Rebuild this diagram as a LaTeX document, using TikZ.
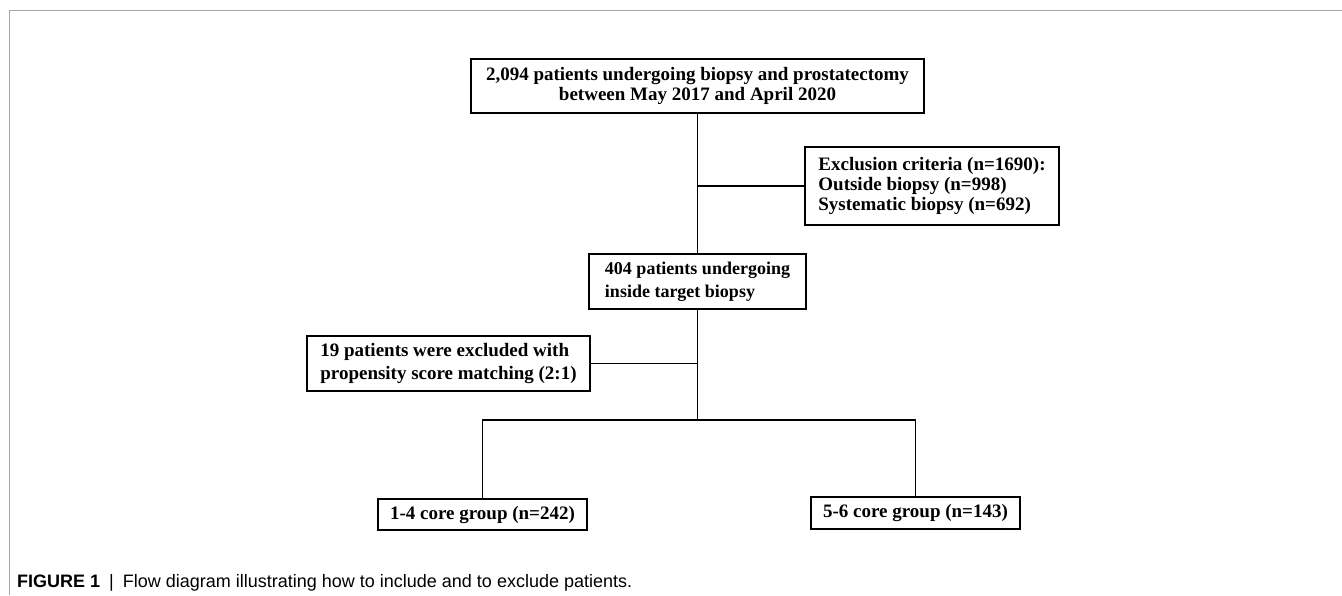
\documentclass[tikz,border=0pt]{standalone}
\usepackage{fontspec}
\usepackage{xcolor}
\usepackage{tikz}
\newfontfamily\tnr{Liberation Serif}
\newfontfamily\capfont{Liberation Sans}
\definecolor{framegray}{HTML}{A8A8A8}

\begin{document}
\begin{tikzpicture}[x=1pt,y=-1pt,
  every node/.style={font=\tnr\bfseries\fontsize{19}{20}\selectfont},
  flowbox/.style={draw,line width=1.8pt,inner sep=0pt,align=left},
  link/.style={line width=1.8pt}]
 \useasboundingbox (0,0) rectangle (1342,595);
 % page frame
 \draw[framegray,line width=1pt] (1342,10.5)--(9.5,10.5)--(9.5,595);
 % boxes
 \node[flowbox,align=center,minimum width=453pt,minimum height=54pt] (all) at (697.5,86)
  {2,094 patients undergoing biopsy and prostatectomy\\between May 2017 and April 2020};
 \node[flowbox,minimum width=254pt,minimum height=78pt] (excl) at (932,186)
  {Exclusion criteria (n=1690):\\Outside biopsy (n=998)\\Systematic biopsy (n=692)};
 \node[flowbox,font=\tnr\bfseries\fontsize{18}{23}\selectfont,minimum width=217pt,minimum height=55pt] (target) at (697.5,281.5)
  {404 patients undergoing\\inside target biopsy};
 \node[flowbox,font=\tnr\bfseries\fontsize{19}{23}\selectfont,minimum width=283pt,minimum height=55pt] (psm) at (448.5,363.5)
  {19 patients were excluded with\\propensity score matching (2:1)};
 \node[flowbox,minimum width=209pt,minimum height=31pt] (low) at (482.5,514.5)
  {1-4 core group (n=242)};
 \node[flowbox,minimum width=209pt,minimum height=32pt] (high) at (915.5,513)
  {5-6 core group (n=143)};
 \coordinate (split) at (697.5,420);
 % connectors
 \draw[link] (all.south)--(target.north);
 \draw[link] (all.south |- excl.west)--(excl.west);
 \draw[link] (target.south)--(split);
 \draw[link] (target.south |- psm.east)--(psm.east);
 \draw[link] (low.north) |- (split) -| (high.north);
 % caption
 \node[font=\capfont\fontsize{18}{20}\selectfont,anchor=base west,inner sep=0pt] (cap) at (17,587)
  {\textbf{FIGURE 1}\enspace|\enspace Flow diagram illustrating how to include and to exclude patients.};
\end{tikzpicture}
\end{document}
